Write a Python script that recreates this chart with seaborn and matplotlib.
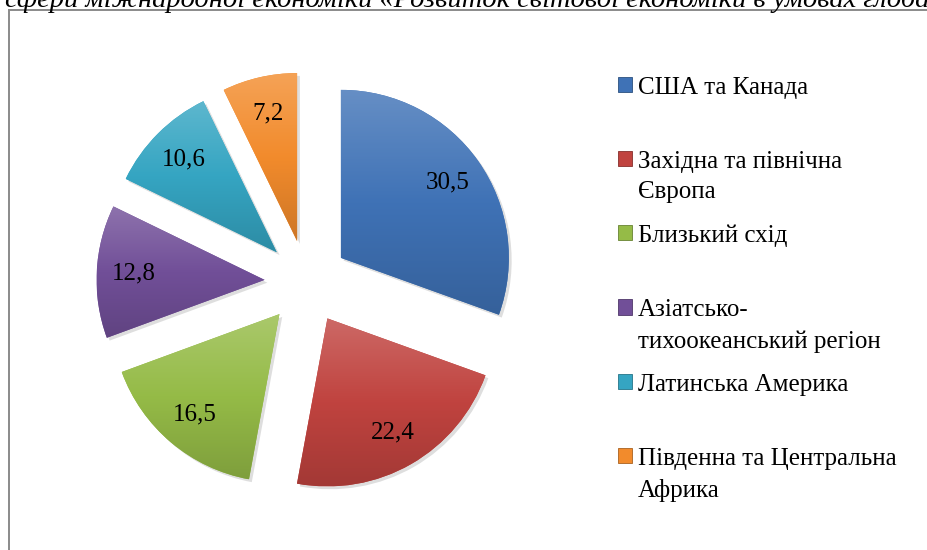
import numpy as np
import matplotlib
matplotlib.use("Agg")
import matplotlib.pyplot as plt
import seaborn as sns
from matplotlib.colors import LinearSegmentedColormap, to_rgb
from matplotlib.patches import Patch, Rectangle
from matplotlib.offsetbox import HPacker

# дані діаграми
regions = ["США та Канада", "Західна та північна\nЄвропа", "Близький схід",
           "Азіатсько-\nтихоокеанський регіон", "Латинська Америка",
           "Південна та Центральна\nАфрика"]
shares = [30.5, 22.4, 16.5, 12.8, 10.6, 7.2]
colors = ["#3f72b6", "#c0433f", "#95bb47", "#714f98", "#35a5c2", "#f28b2c"]
top_text = "сфери міжнародної економіки «Розвиток світової економіки в умовах глобалізації»"

sns.set_theme(style="white")
plt.rcParams["font.family"] = ["Liberation Serif", "DejaVu Serif"]
plt.rcParams["text.color"] = "black"

fig = plt.figure(figsize=(9.27, 5.5), dpi=100)

# рамка області діаграми (виходить за межі зображення)
fig.add_artist(Rectangle((8.5 / 927, -0.1), 1.2, 1.1 - 10 / 550, transform=fig.transFigure,
                         fill=False, edgecolor="#8a8a8a", linewidth=1.4))

# обрізаний текст документа над діаграмою
fig.text(5 / 927, 1 - 7 / 550, top_text, fontsize=20.5, style="italic",
         ha="left", va="baseline", color="black")

ax = fig.add_axes([46.5 / 927, 8 / 550, 520 / 927, 520 / 550])
wedges, texts, autotexts = ax.pie(
    shares, colors=colors, startangle=90, counterclock=False,
    explode=[0.25] * len(shares), radius=1,
    autopct=lambda p: f"{p:.1f}".replace(".", ","), pctdistance=0.78,
    textprops=dict(fontsize=18, color="black"),
    wedgeprops=dict(linewidth=0),
    shadow=dict(ox=0.012, oy=-0.012, facecolor="#c8c8c8", edgecolor="none", alpha=0.6),
)

# легкий градієнт у кожному секторі
for w, c in zip(wedges, colors):
    r, g, b = to_rgb(c)
    light = tuple(min(1, v + (1 - v) * 0.2) for v in (r, g, b))
    dark = tuple(v * 0.85 for v in (r, g, b))
    cmap = LinearSegmentedColormap.from_list("g", [dark, (r, g, b), light])
    bb = w.get_path().get_extents(w.get_transform() - ax.transData)
    grad = np.linspace(0, 1, 100).reshape(-1, 1)
    im = ax.imshow(grad, extent=[bb.x0, bb.x1, bb.y0, bb.y1], origin="lower",
                   cmap=cmap, aspect="auto", zorder=w.get_zorder() + 0.1,
                   interpolation="bilinear")
    im.set_clip_path(w)

for t in autotexts:
    t.set_zorder(5)

lim = 260 / 168
ax.set_xlim(-lim, lim)
ax.set_ylim(-lim, lim)
ax.set_aspect("equal")
ax.axis("off")

# легенда: усі записи однакової висоти
handles = [Patch(facecolor=c, edgecolor=tuple(v * 0.7 for v in to_rgb(c)), linewidth=0.6)
           for c in colors]
labels = [s if "\n" in s else s + "\n" for s in regions]
leg = fig.legend(handles, labels, loc="upper left", bbox_to_anchor=(618 / 927, 1 - 76.5 / 550),
                 frameon=False, borderpad=0, borderaxespad=0, fontsize=18,
                 handlelength=0.56, handleheight=0.56, handletextpad=0.24,
                 labelspacing=0.864)
for t in leg.get_texts():
    t.set_linespacing(1.5)
for hp in leg.findobj(HPacker):
    hp.align = "top"

fig.savefig("out.png", dpi=100)
